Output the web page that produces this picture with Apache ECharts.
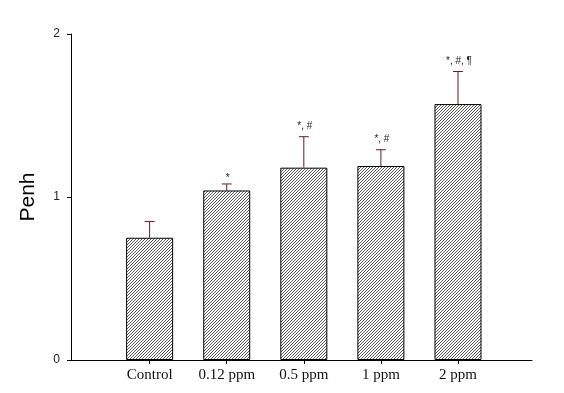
<!DOCTYPE html>
<html>
<head>
<meta charset="utf-8">
<script src="https://cdn.jsdelivr.net/npm/echarts@6/dist/echarts.min.js"></script>
<style>
  html, body { margin: 0; padding: 0; background: #fff; }
  #chart { width: 564px; height: 393px; }
</style>
</head>
<body>
<div id="chart"></div>
<script>
const categories = ['Control', '0.12 ppm', '0.5 ppm', '1 ppm', '2 ppm'];
const means = [0.75, 1.04, 1.18, 1.19, 1.57];
const errTops = [0.85, 1.08, 1.37, 1.29, 1.77];
const marks = ['', '*', '*, #', '*, #', '*, #, \u00B6'];
const yTicks = [0, 1, 2];

// diagonal hatch tile
const T = 3;
const tile = document.createElement('canvas');
tile.width = T;
tile.height = T;
const ctx = tile.getContext('2d');
ctx.fillStyle = '#fff';
ctx.fillRect(0, 0, T, T);
ctx.strokeStyle = '#333';
ctx.lineWidth = 0.8;
ctx.beginPath();
ctx.moveTo(-1, T + 1); ctx.lineTo(T + 1, -1);
ctx.moveTo(-1, 1); ctx.lineTo(1, -1);
ctx.moveTo(T - 1, T + 1); ctx.lineTo(T + 1, T - 1);
ctx.stroke();

const chart = echarts.init(document.getElementById('chart'));

const idx = categories.map((c, i) => i);

const option = {
  animation: false,
  grid: { left: 71, right: 32, top: 34, bottom: 33 },
  xAxis: {
    type: 'value',
    min: -1.02,
    max: 4.96,
    splitLine: { show: false },
    axisLine: { show: true, onZero: false, lineStyle: { color: '#000', width: 1 } },
    axisTick: { show: true, length: 4, customValues: idx, lineStyle: { color: '#000' } },
    axisLabel: {
      customValues: idx,
      formatter: v => categories[Math.round(v)],
      fontFamily: 'Liberation Serif',
      fontSize: 15,
      color: '#111',
      margin: 8
    }
  },
  yAxis: {
    type: 'value',
    min: yTicks[0],
    max: yTicks[yTicks.length - 1],
    interval: 1,
    name: 'Penh',
    nameLocation: 'middle',
    nameGap: 32,
    nameTextStyle: { fontFamily: 'Liberation Sans', fontSize: 21, color: '#000' },
    splitLine: { show: false },
    axisLine: { show: true, onZero: false, lineStyle: { color: '#000', width: 1 } },
    axisTick: { show: true, length: 4, lineStyle: { color: '#000' } },
    axisLabel: { fontFamily: 'Liberation Sans', fontSize: 12, color: '#222', margin: 11 }
  },
  series: [
    {
      type: 'bar',
      data: idx.map(i => [i, means[i]]),
      barWidth: 47,
      itemStyle: {
        color: { image: tile, repeat: 'repeat' },
        borderColor: '#000',
        borderWidth: 1
      }
    },
    {
      type: 'custom',
      data: idx.map(i => [i, means[i], errTops[i]]),
      renderItem: function (params, api) {
        const i = api.value(0);
        const base = api.coord([i, api.value(1)]);
        const top = api.coord([i, api.value(2)]);
        const half = 5;
        return {
          type: 'group',
          children: [
            {
              type: 'line',
              shape: { x1: base[0], y1: base[1], x2: top[0], y2: top[1] },
              style: { stroke: '#6b1a1a', lineWidth: 1 }
            },
            {
              type: 'line',
              shape: { x1: top[0] - half, y1: top[1], x2: top[0] + half, y2: top[1] },
              style: { stroke: '#6b1a1a', lineWidth: 1 }
            },
            {
              type: 'text',
              style: {
                text: marks[i],
                x: top[0] + 1,
                y: top[1] - (i === 1 ? 1 : 5),
                align: 'center',
                verticalAlign: 'bottom',
                fontFamily: 'Liberation Sans',
                fontSize: 10,
                fill: '#222'
              }
            }
          ]
        };
      },
      z: 3
    }
  ]
};

chart.setOption(option);
</script>
</body>
</html>
